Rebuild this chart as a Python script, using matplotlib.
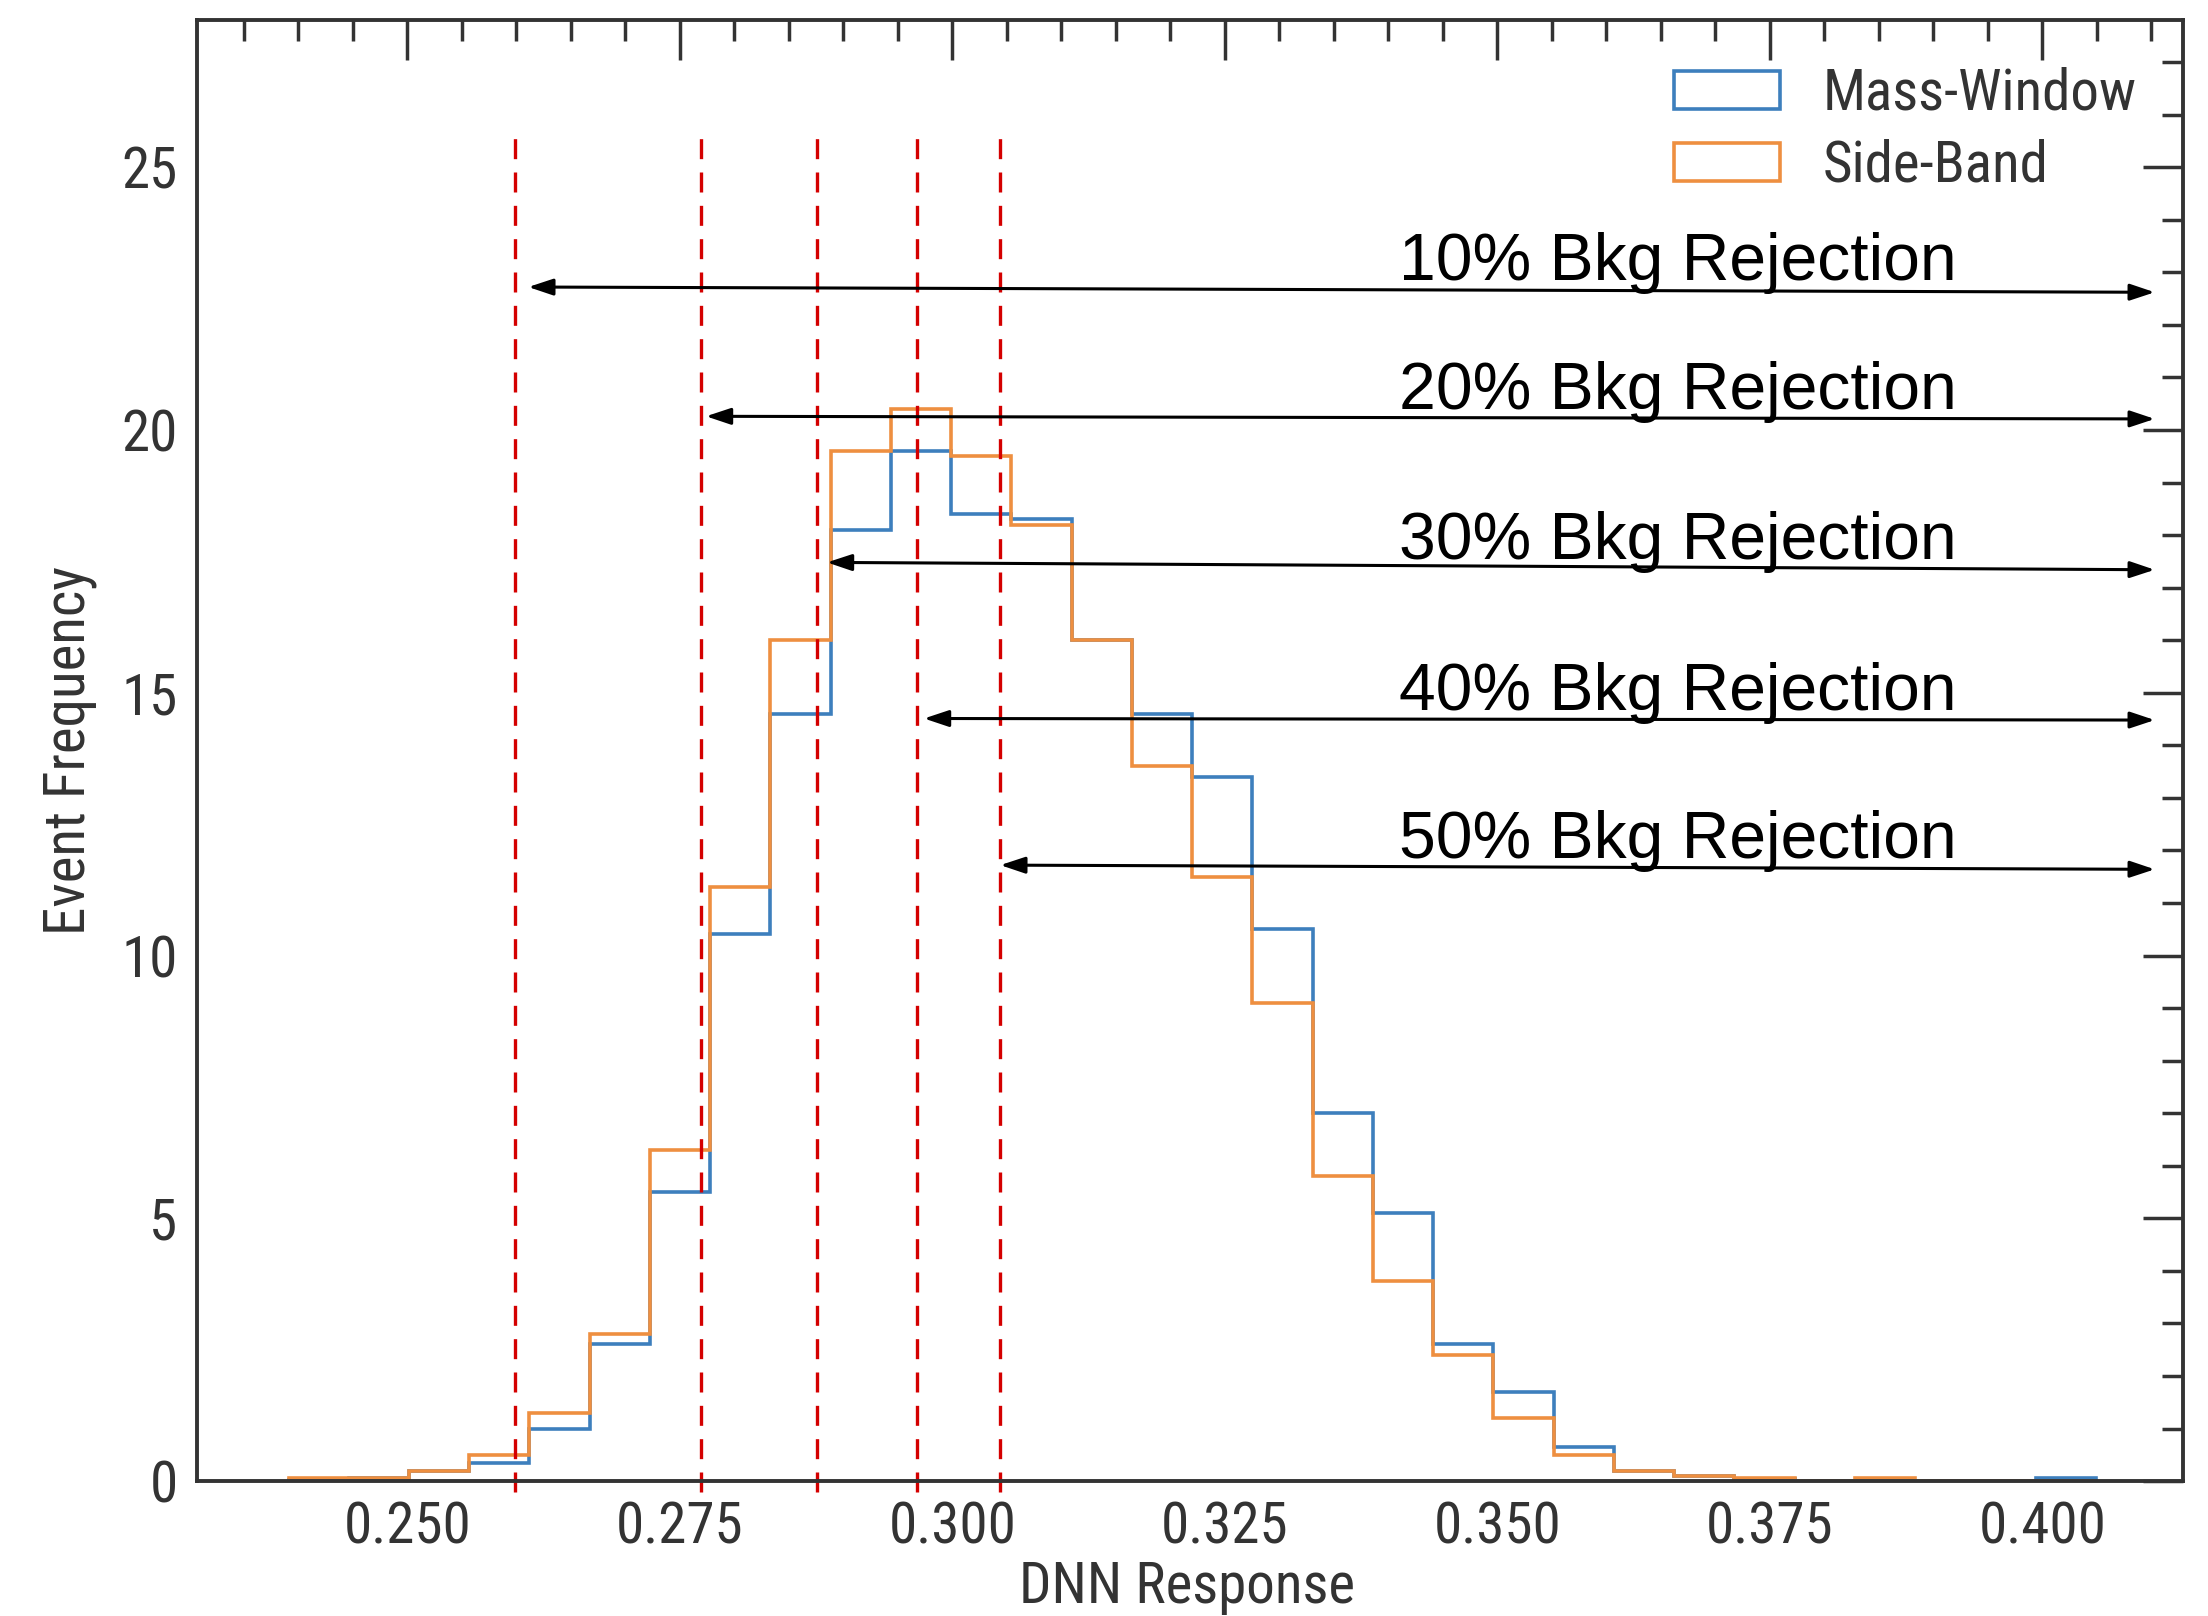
import matplotlib
matplotlib.use('Agg')
import matplotlib.pyplot as plt
from matplotlib import font_manager
import numpy as np


# histogram binning (30 common bins)
bin_lo = 0.2391
bin_hi = 0.4049
n_bins = 30

# bin heights (density)
mass_window = [0.02, 0.05, 0.2, 0.35, 1.0, 2.6, 5.5, 10.4, 14.6, 18.1,
               19.6, 18.4, 18.3, 16.0, 14.6, 13.4, 10.5, 7.0, 5.1, 2.6,
               1.7, 0.65, 0.2, 0.1, 0.03, 0.0, 0.0, 0.0, 0.0, 0.05]
side_band = [0.05, 0.05, 0.2, 0.5, 1.3, 2.8, 6.3, 11.3, 16.0, 19.6,
             20.4, 19.5, 18.2, 16.0, 13.6, 11.5, 9.1, 5.8, 3.8, 2.4,
             1.2, 0.5, 0.2, 0.1, 0.05, 0.0, 0.05, 0.0, 0.0, 0.0]

# cut positions and the rejection arrows
cut_x = [0.2599, 0.2769, 0.2876, 0.2968, 0.3044]
cut_labels = ['10% Bkg Rejection', '20% Bkg Rejection', '30% Bkg Rejection',
              '40% Bkg Rejection', '50% Bkg Rejection']
arrow_left_x = [0.2611, 0.2774, 0.2885, 0.2974, 0.3044]
arrow_left_y = [22.72, 20.26, 17.48, 14.51, 11.72]
arrow_right_y = [22.62, 20.21, 17.34, 14.48, 11.64]
arrow_right_x = 0.4103
text_x = 0.3410
text_y = [22.85, 20.40, 17.55, 14.68, 11.85]

xticks = [0.250, 0.275, 0.300, 0.325, 0.350, 0.375, 0.400]
yticks = [0, 5, 10, 15, 20, 25]

# condensed font if there is one, else Arial-like at a smaller size
installed = set(f.name for f in font_manager.fontManager.ttflist)
lab_font = 'Liberation Sans'
lab_size = 36
for name in ['Liberation Sans Narrow', 'Roboto Condensed', 'Arial Narrow',
             'Open Sans Condensed', 'DejaVu Sans Condensed']:
    if name in installed:
        lab_font = name
        lab_size = 41
        break
narrow = [lab_font, 'DejaVu Sans']
gray = '#333333'

fig = plt.figure(figsize=(22.08, 16.16), dpi=100)
ax = fig.add_axes([0.0892, 0.0835, 0.8995, 0.9041])

edges = np.linspace(bin_lo, bin_hi, n_bins + 1)
centers = (edges[:-1] + edges[1:]) / 2

ax.hist(centers, bins=edges, weights=mass_window, histtype='step',
        color='#3d7fbd', lw=2.6, label='Mass-Window')
ax.hist(centers, bins=edges, weights=side_band, histtype='step',
        color='#ee8f40', lw=2.6, label='Side-Band')

for x in cut_x:
    ax.plot([x, x], [-0.2, 25.6], color='#d40000', lw=2.4,
            linestyle=(0, (6, 4)), clip_on=False)

for i in range(len(cut_labels)):
    ax.annotate('', xy=(arrow_left_x[i], arrow_left_y[i]),
                xytext=(arrow_right_x, arrow_right_y[i]),
                arrowprops=dict(arrowstyle='<|-|>,head_length=1.5,head_width=0.5',
                                color='black', lw=2.2, shrinkA=0, shrinkB=0))
    ax.text(text_x, text_y[i], cut_labels[i], fontsize=47.5,
            family='Liberation Sans', color='black', va='baseline', ha='left')

ax.set_xlim(0.2307, 0.4129)
ax.set_ylim(0, 27.8)
ax.set_xticks(xticks)
ax.set_xticklabels(['%.3f' % t for t in xticks])
ax.set_yticks(yticks)
ax.xaxis.set_minor_locator(matplotlib.ticker.MultipleLocator(0.005))
ax.yaxis.set_minor_locator(matplotlib.ticker.MultipleLocator(1))

ax.tick_params(which='both', direction='in', top=True, right=True,
               bottom=False, left=False, labelbottom=True, labelleft=True,
               color=gray, width=2.5, labelsize=lab_size, labelcolor=gray, pad=14)
ax.tick_params(which='major', length=29)
ax.tick_params(which='minor', length=15)
for lab in ax.get_xticklabels() + ax.get_yticklabels():
    lab.set_family(narrow)

for s in ax.spines.values():
    s.set_color(gray)
    s.set_linewidth(2.8)

ax.set_xlabel('DNN Response', fontsize=lab_size, color=gray, family=narrow,
              va='center', ha='center')
ax.xaxis.set_label_coords(0.4985, -0.073)
ax.set_ylabel('Event Frequency', fontsize=lab_size, color=gray, family=narrow,
              va='center', ha='center')
ax.yaxis.set_label_coords(-0.064, 0.50)

leg = ax.legend(loc='upper right', frameon=False, prop={'family': narrow, 'size': lab_size},
                handlelength=1.85, handleheight=0.65, handletextpad=0.75,
                labelspacing=0.3, borderaxespad=0.42)
for t in leg.get_texts():
    t.set_color(gray)

fig.savefig('out.png', dpi=100)
